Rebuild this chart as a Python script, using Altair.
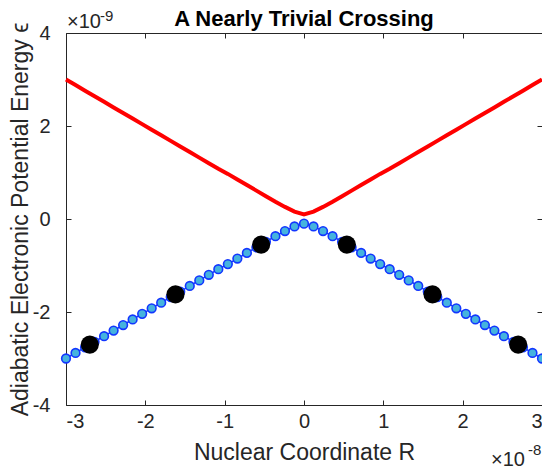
import altair as alt
import pandas as pd

# Nuclear coordinate R (units of 1e-8)
r_vals = [-3.00, -2.88, -2.76, -2.64, -2.52, -2.40, -2.28, -2.16, -2.04, -1.92,
          -1.80, -1.68, -1.56, -1.44, -1.32, -1.20, -1.08, -0.96, -0.84, -0.72,
          -0.60, -0.48, -0.36, -0.24, -0.12, 0.00, 0.12, 0.24, 0.36, 0.48,
          0.60, 0.72, 0.84, 0.96, 1.08, 1.20, 1.32, 1.44, 1.56, 1.68,
          1.80, 1.92, 2.04, 2.16, 2.28, 2.40, 2.52, 2.64, 2.76, 2.88, 3.00]
# Upper adiabatic surface (units of 1e-9)
upper_vals = [3.00, 2.88, 2.76, 2.64, 2.52, 2.40, 2.28, 2.16, 2.04, 1.92,
              1.80, 1.68, 1.56, 1.44, 1.32, 1.20, 1.08, 0.97, 0.85, 0.73,
              0.61, 0.49, 0.37, 0.26, 0.16, 0.10, 0.16, 0.26, 0.37, 0.49,
              0.61, 0.73, 0.85, 0.97, 1.08, 1.20, 1.32, 1.44, 1.56, 1.68,
              1.80, 1.92, 2.04, 2.16, 2.28, 2.40, 2.52, 2.64, 2.76, 2.88, 3.00]
# Lower adiabatic surface (units of 1e-9)
lower_vals = [-3.00, -2.88, -2.76, -2.64, -2.52, -2.40, -2.28, -2.16, -2.04, -1.92,
              -1.80, -1.68, -1.56, -1.44, -1.32, -1.20, -1.08, -0.97, -0.85, -0.73,
              -0.61, -0.49, -0.37, -0.26, -0.16, -0.10, -0.16, -0.26, -0.37, -0.49,
              -0.61, -0.73, -0.85, -0.97, -1.08, -1.20, -1.32, -1.44, -1.56, -1.68,
              -1.80, -1.92, -2.04, -2.16, -2.28, -2.40, -2.52, -2.64, -2.76, -2.88, -3.00]
# Large black sample points
dot_r = [-2.70, -1.62, -0.54, 0.54, 1.62, 2.70]
dot_e = [-2.70, -1.62, -0.55, -0.55, -1.62, -2.70]

x_ticks = [-3, -2, -1, 0, 1, 2, 3]
y_ticks = [-4, -2, 0, 2, 4]

TITLE = "A Nearly Trivial Crossing"
FONT = "Liberation Sans"
INK = "#262626"
W, H = 476, 372

curve = pd.DataFrame({"R": r_vals, "upper": upper_vals, "lower": lower_vals})
dots = pd.DataFrame({"R": dot_r, "E": dot_e})
one = pd.DataFrame({"k": [0]})

xs = alt.Scale(domain=[-3, 3], nice=False, zero=False)
ys = alt.Scale(domain=[-4, 4], nice=False, zero=False)

tick_common = dict(offset=-5, tickSize=5, domain=False, grid=False,
                   tickColor=INK, tickWidth=1)

red = alt.Chart(curve).mark_line(color="#ff0000", strokeWidth=4).encode(
    x=alt.X("R:Q", scale=xs, axis=alt.Axis(
        orient="bottom", values=x_ticks, labelPadding=6,
        labelExpr="'' + datum.value", labelFontSize=20, labelColor=INK,
        labelFont=FONT, title="Nuclear Coordinate R", titlePadding=10,
        titleFontSize=23, titleFontWeight="normal", titleFont=FONT,
        titleColor=INK, **tick_common)),
    y=alt.Y("upper:Q", scale=ys, axis=alt.Axis(
        orient="left", values=y_ticks, labelPadding=16,
        labelExpr="'' + datum.value", labelFontSize=20, labelColor=INK,
        labelFont=FONT, title="Adiabatic Electronic Potential Energy \u03f5",
        titlePadding=0, titleFontSize=23, titleFontWeight="normal",
        titleFont=FONT, titleColor=INK, **tick_common)),
)

blue_line = alt.Chart(curve).mark_line(color="#1236ff", strokeWidth=1.5).encode(
    x=alt.X("R:Q", scale=xs, axis=alt.Axis(
        orient="top", values=x_ticks, labels=False, title=None, **tick_common)),
    y=alt.Y("lower:Q", scale=ys, axis=alt.Axis(
        orient="right", values=y_ticks, labels=False, title=None, **tick_common)),
)

blue_pts = alt.Chart(curve).mark_point(
    shape="circle", filled=False, fill="#45b3de", fillOpacity=1,
    stroke="#1236ff", strokeWidth=1.6, size=75, opacity=1).encode(
    x=alt.X("R:Q", scale=xs, axis=None),
    y=alt.Y("lower:Q", scale=ys, axis=None),
)

black = alt.Chart(dots).mark_circle(color="black", size=330, opacity=1).encode(
    x=alt.X("R:Q", scale=xs, axis=None),
    y=alt.Y("E:Q", scale=ys, axis=None),
)

def txt(s, x, y, size, align="left", weight="normal", color=INK):
    return alt.Chart(one).mark_text(
        text=s, align=align, baseline="alphabetic", font=FONT,
        fontSize=size, fontWeight=weight, color=color).encode(
        x=alt.value(x), y=alt.value(y))

annot = (txt("\u00d710", 1, -5, 20) + txt("-9", 34, -12, 15)
         + txt("\u00d710", 425, 433, 20) + txt("-8", 462, 422, 15)
         + txt(TITLE, W / 2, -7, 22, align="center", weight="bold",
               color="black"))

chart = alt.layer(red, blue_line, blue_pts, black, annot).resolve_axis(
    x="independent", y="independent"
).properties(
    width=W, height=H,
    autosize=alt.AutoSizeParams(type="none"),
    padding={"left": 58, "top": 25, "right": 0, "bottom": 65},
).configure_view(stroke=INK, strokeWidth=1)

chart.save("out.html", embed_options={"renderer": "svg", "actions": False})
